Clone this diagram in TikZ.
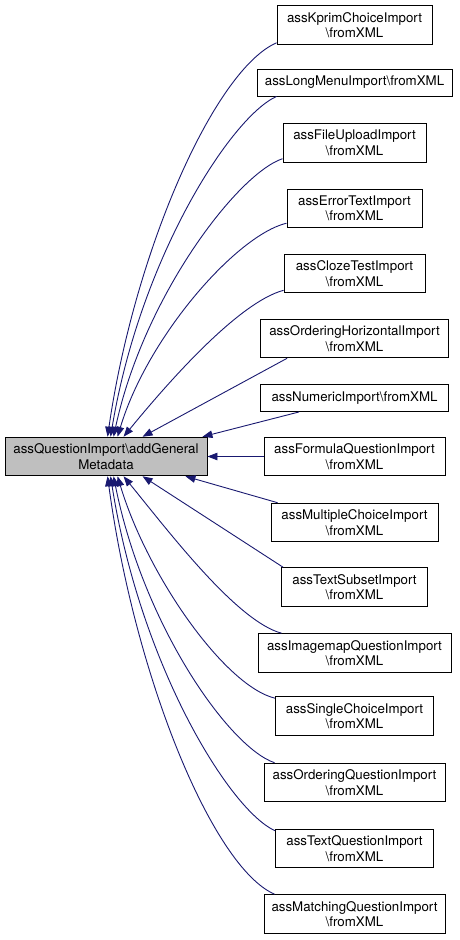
\documentclass[tikz,border=0pt]{standalone}
\usepackage{fontspec}
\setmainfont{TeX Gyre Heros}
\usetikzlibrary{arrows.meta,calc}
\definecolor{edgeblue}{RGB}{25,25,112}
\definecolor{basegray}{RGB}{191,191,191}
\newcommand{\bks}{\textbackslash}

\begin{document}
\begin{tikzpicture}[x=1pt, y=-1pt,
    box/.style={draw=black, line width=0.9pt, fill=white, align=center,
      inner xsep=6pt, inner ysep=6.5pt, minimum height=27pt,
      font=\fontsize{13.3}{15.5}\selectfont},
    edge/.style={edgeblue, line width=0.9pt, -{Triangle[length=10pt,width=7.5pt]}}]
    \useasboundingbox (0,0) rectangle (459,940);

    % The called function
    \node[box, fill=basegray, minimum width=202] (base) at (106,456.5)
      {assQuestionImport\bks addGeneral\\Metadata};

    % Callers, one column on the right
    \node[box, minimum width=155] (kprim) at (354.5,25) {assKprimChoiceImport\\\bks fromXML};
    \node[box, minimum width=195] (longmenu) at (354.5,82.5) {assLongMenuImport\bks fromXML};
    \node[box, minimum width=143] (fileupload) at (354.5,143) {assFileUploadImport\\\bks fromXML};
    \node[box, minimum width=135] (errortext) at (354.5,208.5) {assErrorTextImport\\\bks fromXML};
    \node[box, minimum width=141] (clozetest) at (354.5,273.5) {assClozeTestImport\\\bks fromXML};
    \node[box, minimum width=188] (orderhoriz) at (354.5,338.5) {assOrderingHorizontalImport\\\bks fromXML};
    \node[box, minimum width=188] (numeric) at (354.5,398) {assNumericImport\bks fromXML};
    \node[box, minimum width=181] (formula) at (354.5,456.5) {assFormulaQuestionImport\\\bks fromXML};
    \node[box, minimum width=167] (multichoice) at (354.5,522.5) {assMultipleChoiceImport\\\bks fromXML};
    \node[box, minimum width=146] (textsubset) at (354.5,587) {assTextSubsetImport\\\bks fromXML};
    \node[box, minimum width=193] (imagemap) at (354.5,653) {assImagemapQuestionImport\\\bks fromXML};
    \node[box, minimum width=158] (singlechoice) at (354.5,716) {assSingleChoiceImport\\\bks fromXML};
    \node[box, minimum width=181] (orderquest) at (354.5,782.5) {assOrderingQuestionImport\\\bks fromXML};
    \node[box, minimum width=158] (textquest) at (354.5,848.5) {assTextQuestionImport\\\bks fromXML};
    \node[box, minimum width=181] (matching) at (354.5,914) {assMatchingQuestionImport\\\bks fromXML};

    % Upper callers, curving down onto the top of the base node
    \draw[edge] ($(kprim.south west)+(0,-2)$) .. controls +(-62,27) and +(27,-186) .. ($(base.north west)+(103,0)$);
    \draw[edge] ($(longmenu.south west)+(20,0)$) .. controls +(-45,20) and +(30,-180) .. ($(base.north west)+(106,0)$);
    \draw[edge] ($(fileupload.south west)+(0,-4)$) .. controls +(-45,15) and +(30,-140) .. ($(base.north west)+(109,0)$);
    \draw[edge] ($(errortext.south west)+(0,-5)$) .. controls +(-50,12) and +(30,-100) .. ($(base.north west)+(113,0)$);
    \draw[edge] ($(clozetest.south west)+(0,-3)$) .. controls +(-45,12) and +(45,-55) .. ($(base.north west)+(119,0)$);
    \draw[edge] ($(orderhoriz.south west)+(27,0)$) -- ($(base.north west)+(138,0)$);
    \draw[edge] ($(numeric.south west)+(39,0)$) -- ($(base.north east)+(-5,0)$);

    % Straight across
    \draw[edge] (formula.west) -- (base.east);

    % Lower callers, curving up onto the bottom of the base node
    \draw[edge] ($(multichoice.north west)+(7,0)$) -- ($(base.south east)+(-22,0)$);
    \draw[edge] ($(textsubset.north west)+(2,0)$) -- ($(base.south west)+(138,0)$);
    \draw[edge] ($(imagemap.north west)+(24,0)$) .. controls +(-45,-12) and +(45,55) .. ($(base.south west)+(119,0)$);
    \draw[edge] ($(singlechoice.north west)+(0,2)$) .. controls +(-50,-12) and +(30,100) .. ($(base.south west)+(113,0)$);
    \draw[edge] ($(orderquest.north west)+(11,0)$) .. controls +(-45,-15) and +(30,150) .. ($(base.south west)+(109,0)$);
    \draw[edge] ($(textquest.north west)+(0,2)$) .. controls +(-45,-20) and +(30,190) .. ($(base.south west)+(106,0)$);
    \draw[edge] ($(matching.north west)+(11,0)$) .. controls +(-62,-27) and +(27,200) .. ($(base.south west)+(103,0)$);
\end{tikzpicture}
\end{document}
